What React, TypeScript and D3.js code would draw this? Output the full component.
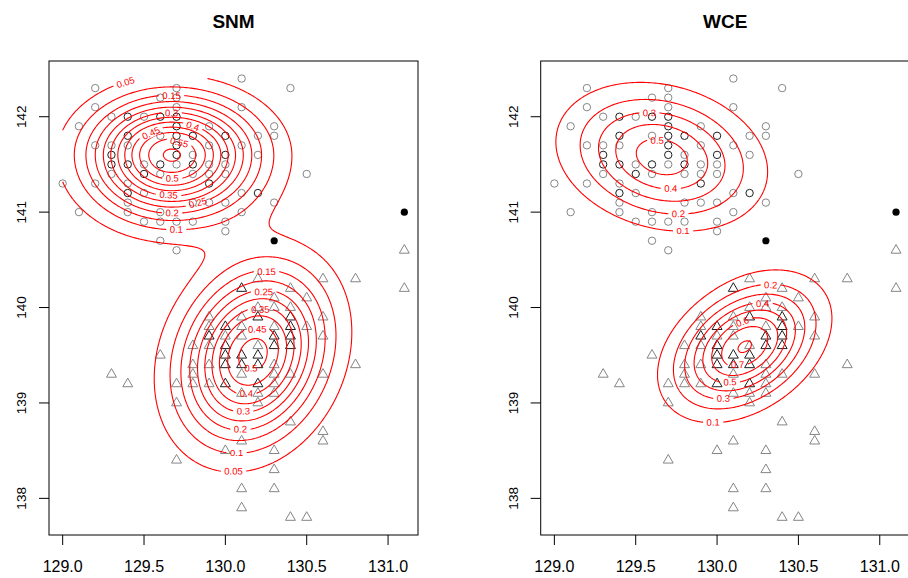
import React, { useMemo } from "react";
import * as d3 from "d3";

const W = 908;
const H = 578;
const FONT = "'Liberation Sans', Arial, Helvetica, sans-serif";

// ---------------- data ----------------
// circles (group 1), drawn gray
const circlesGray: [number, number][] = [
  [130.1, 142.4],
  [129.2, 142.3], [129.7, 142.3], [130.4, 142.3],
  [129.6, 142.2], [129.7, 142.2],
  [129.2, 142.1], [129.7, 142.1], [130.1, 142.1],
  [129.3, 142.0], [129.5, 142.0],
  [129.1, 141.9], [129.9, 141.9], [130.3, 141.9],
  [129.6, 141.8], [130.2, 141.8], [130.3, 141.8],
  [129.2, 141.7], [129.3, 141.7], [129.4, 141.7], [129.9, 141.7], [130.1, 141.7],
  [129.8, 141.6], [130.2, 141.6],
  [129.5, 141.5], [129.7, 141.5], [129.9, 141.5], [130.0, 141.5],
  [129.3, 141.4], [129.6, 141.4], [129.8, 141.4], [129.9, 141.4], [130.0, 141.4], [130.5, 141.4],
  [129.0, 141.3], [129.2, 141.3], [129.4, 141.3],
  [129.5, 141.2], [130.1, 141.2],
  [129.4, 141.1], [129.8, 141.1], [129.9, 141.1], [130.0, 141.1], [130.3, 141.1],
  [129.1, 141.0], [129.4, 141.0], [129.6, 141.0], [130.1, 141.0],
  [129.5, 140.9], [129.6, 140.9], [129.7, 140.9], [129.8, 140.9], [130.0, 140.9],
  [130.0, 140.8],
  [129.6, 140.7],
  [129.7, 140.6],
];
// circles that are overplotted (appear dark)
const circlesDark: [number, number][] = [
  [129.4, 142.0], [129.6, 142.0], [129.7, 142.0],
  [129.7, 141.9],
  [129.4, 141.8], [129.7, 141.8], [129.8, 141.8], [130.0, 141.8],
  [129.7, 141.7],
  [129.3, 141.6], [129.7, 141.6], [130.0, 141.6],
  [129.3, 141.5], [129.4, 141.5], [129.6, 141.5], [129.8, 141.5],
  [129.5, 141.4],
  [129.9, 141.3],
  [129.4, 141.2], [130.2, 141.2],
];
// triangles (group 2), drawn gray
const trianglesGray: [number, number][] = [
  [131.1, 140.6],
  [130.2, 140.3], [130.6, 140.3], [130.8, 140.3],
  [130.4, 140.2], [131.1, 140.2],
  [130.3, 140.1], [130.5, 140.1],
  [130.2, 140.0], [130.3, 140.0], [130.4, 140.0],
  [129.9, 139.9], [130.1, 139.9], [130.6, 139.9],
  [129.9, 139.8], [130.1, 139.8], [130.3, 139.8], [130.5, 139.8],
  [130.0, 139.7], [130.1, 139.7], [130.6, 139.7],
  [129.8, 139.6], [129.9, 139.6], [130.2, 139.6],
  [129.6, 139.5],
  [129.8, 139.4], [129.9, 139.4], [130.3, 139.4], [130.8, 139.4],
  [129.3, 139.3], [129.8, 139.3], [130.1, 139.3], [130.3, 139.3], [130.4, 139.3], [130.6, 139.3],
  [129.4, 139.2], [129.7, 139.2], [129.8, 139.2], [129.9, 139.2], [130.3, 139.2],
  [130.1, 139.1], [130.2, 139.1], [130.3, 139.1],
  [129.7, 139.0], [130.2, 139.0],
  [130.4, 138.8],
  [130.6, 138.7],
  [130.1, 138.6], [130.6, 138.6],
  [130.0, 138.5], [130.3, 138.5],
  [129.7, 138.4],
  [130.3, 138.3],
  [130.1, 138.1], [130.3, 138.1],
  [130.1, 137.9],
  [130.4, 137.8], [130.5, 137.8],
];
const trianglesDark: [number, number][] = [
  [130.1, 140.2],
  [130.2, 139.9], [130.4, 139.9],
  [130.0, 139.8], [130.4, 139.8],
  [129.9, 139.7], [130.3, 139.7], [130.4, 139.7],
  [130.0, 139.6], [130.3, 139.6], [130.4, 139.6],
  [130.0, 139.5], [130.1, 139.5], [130.2, 139.5],
  [130.0, 139.4], [130.1, 139.4], [130.2, 139.4],
  [130.0, 139.2], [130.2, 139.2],
];
const filledPts: [number, number][] = [
  [130.3, 140.7],
  [131.1, 141.0],
];

// axis ticks
const xTicks = [129.0, 129.5, 130.0, 130.5, 131.0];
const xTickLabels = ["129.0", "129.5", "130.0", "130.5", "131.0"];
const yTicks = [138, 139, 140, 141, 142];
const yTickLabels = ["138", "139", "140", "141", "142"];

// fitted mixture components (peak height, centre, spreads, correlation)
const snmPeak = [0.608, 0.525];
const snmLon = [129.67, 130.17];
const snmLat = [141.6, 139.5];
const snmSdLonLeft = [0.315, 0.28];
const snmSdLonRight = [0.33, 0.28];
const snmSdLatDown = [0.41, 0.565];
const snmSdLatUp = [0.375, 0.56];
const snmRho = [0, 0.2];
const snmLevels = [0.05, 0.1, 0.15, 0.2, 0.25, 0.3, 0.35, 0.4, 0.45, 0.5, 0.55, 0.6];

const wcePeak = [0.552, 0.81];
const wceLon = [129.66, 130.17];
const wceLat = [141.58, 139.59];
const wceSdLon = [0.352, 0.262];
const wceSdLat = [0.422, 0.39];
const wceRho = [-0.2, 0.37];
const wceLevels = [0.1, 0.2, 0.3, 0.4, 0.5, 0.6, 0.7, 0.8];

type Comp = { peak: number; mx: number; my: number; sxl: number; sxr: number; syd: number; syu: number; rho: number };

const snmComps: Comp[] = snmPeak.map((p, i) => ({
  peak: p, mx: snmLon[i], my: snmLat[i], sxl: snmSdLonLeft[i], sxr: snmSdLonRight[i],
  syd: snmSdLatDown[i], syu: snmSdLatUp[i], rho: snmRho[i],
}));
const wceComps: Comp[] = wcePeak.map((p, i) => ({
  peak: p, mx: wceLon[i], my: wceLat[i], sxl: wceSdLon[i], sxr: wceSdLon[i],
  syd: wceSdLat[i], syu: wceSdLat[i], rho: wceRho[i],
}));

function density(lon: number, lat: number, comps: Comp[]) {
  let v = 0;
  for (const c of comps) {
    const dx = lon - c.mx;
    const dy = lat - c.my;
    const zx = dx / (dx < 0 ? c.sxl : c.sxr);
    const zy = dy / (dy < 0 ? c.syd : c.syu);
    const m2 = (zx * zx - 2 * c.rho * zx * zy + zy * zy) / (1 - c.rho * c.rho);
    v += c.peak * Math.exp(-0.5 * m2);
  }
  return v;
}

// ---------------- layout ----------------
const allPts = [...circlesGray, ...circlesDark, ...trianglesGray, ...trianglesDark, ...filledPts];
const lonExt = d3.extent(allPts, (d) => d[0]) as [number, number];
const latExt = d3.extent(allPts, (d) => d[1]) as [number, number];
const padX = (lonExt[1] - lonExt[0]) * 0.04;
const padY = (latExt[1] - latExt[0]) * 0.04;

const PLOT_TOP = 61;
const PLOT_BOTTOM = 535;
const PLOT_W = 369;
const PANEL_LEFTS = [49, 540.7];

const LABEL_FS = 9.5;

function textWidth(s: string, fs: number) {
  let w = 0;
  for (const ch of s) w += ch === "." ? 0.278 : 0.556;
  return w * fs;
}

type Box = { x: number; y: number; a: number; hw: number; hh: number };
function corners(b: Box) {
  const c = Math.cos(b.a), s = Math.sin(b.a);
  return [[-b.hw, -b.hh], [b.hw, -b.hh], [b.hw, b.hh], [-b.hw, b.hh]].map(([u, v]) => [
    b.x + u * c - v * s,
    b.y + u * s + v * c,
  ]);
}
function overlaps(b1: Box, b2: Box) {
  const c1 = corners(b1), c2 = corners(b2);
  for (const b of [b1, b2]) {
    const axes = [[Math.cos(b.a), Math.sin(b.a)], [-Math.sin(b.a), Math.cos(b.a)]];
    for (const [ax, ay] of axes) {
      const p1 = c1.map((p) => p[0] * ax + p[1] * ay);
      const p2 = c2.map((p) => p[0] * ax + p[1] * ay);
      if (Math.max(...p1) < Math.min(...p2) || Math.max(...p2) < Math.min(...p1)) return false;
    }
  }
  return true;
}

function resample(pts: number[][], closed: boolean) {
  const out: number[][] = [];
  const P = closed ? [...pts, pts[0]] : pts;
  let carry = 0;
  out.push(P[0]);
  for (let i = 1; i < P.length; i++) {
    const a = P[i - 1], b = P[i];
    const len = Math.hypot(b[0] - a[0], b[1] - a[1]);
    let t = 1 - carry;
    while (t <= len) {
      const f = t / len;
      out.push([a[0] + (b[0] - a[0]) * f, a[1] + (b[1] - a[1]) * f]);
      t += 1;
    }
    carry = len - (t - 1);
  }
  if (closed && out.length > 1) {
    const l = out[out.length - 1];
    if (Math.hypot(l[0] - out[0][0], l[1] - out[0][1]) < 0.5) out.pop();
  }
  return out;
}

function fmtLevel(v: number) {
  return String(+v.toFixed(2));
}

function buildPanel(comps: Comp[], levels: number[], left: number) {
  const x = d3.scaleLinear().domain([lonExt[0] - padX, lonExt[1] + padX]).range([left, left + PLOT_W]);
  const y = d3.scaleLinear().domain([latExt[0] - padY, latExt[1] + padY]).range([PLOT_BOTTOM, PLOT_TOP]);
  const step = 0.01;
  const nx = Math.round((lonExt[1] - lonExt[0]) / step) + 1;
  const ny = Math.round((latExt[1] - latExt[0]) / step) + 1;
  const values = new Float64Array(nx * ny);
  for (let j = 0; j < ny; j++) {
    const lat = latExt[1] - j * step;
    for (let i = 0; i < nx; i++) values[j * nx + i] = density(lonExt[0] + i * step, lat, comps);
  }
  const gen = d3.contours().size([nx, ny]).thresholds(levels);
  const mps = gen(Array.from(values));
  const toPx = (p: number[]) => [x(lonExt[0] + (p[0] - 0.5) * step), y(latExt[1] - (p[1] - 0.5) * step)];
  const onB = (p: number[]) => p[0] <= 0 || p[0] >= nx || p[1] <= 0 || p[1] >= ny;

  type Line = { level: number; pts: number[][]; closed: boolean };
  const lines: Line[] = [];
  for (const mp of mps) {
    for (const poly of mp.coordinates) {
      for (const ring of poly) {
        const pts = ring.slice(0, -1);
        const bIdx = pts.findIndex(onB);
        if (bIdx < 0) {
          lines.push({ level: mp.value, pts: pts.map(toPx), closed: true });
          continue;
        }
        const rot = pts.slice(bIdx).concat(pts.slice(0, bIdx));
        let cur: number[][] = [];
        for (const p of rot) {
          if (onB(p)) {
            if (cur.length > 1) lines.push({ level: mp.value, pts: cur.map(toPx), closed: false });
            cur = [];
          } else cur.push(p);
        }
        if (cur.length > 1) lines.push({ level: mp.value, pts: cur.map(toPx), closed: false });
      }
    }
  }

  // label placement (flattest, near-horizontal, non-overlapping)
  const placed: (Box & { text: string; gap: number; dev: number })[] = [];
  const bx0 = left + 2, bx1 = left + PLOT_W - 2, by0 = PLOT_TOP + 2, by1 = PLOT_BOTTOM - 2;
  for (const ln of lines) {
    const text = fmtLevel(ln.level);
    const tw = textWidth(text, LABEL_FS);
    const gap = tw + 7;
    const xs = ln.pts.map((p) => p[0]), ys = ln.pts.map((p) => p[1]);
    const ext = Math.max(d3.max(xs)! - d3.min(xs)!, d3.max(ys)! - d3.min(ys)!);
    if (ext < gap * 1.1) continue;
    const res = resample(ln.pts, ln.closed);
    const n = res.length;
    const L = Math.round(gap);
    if (n < L + 2) continue;
    const count = ln.closed ? n : n - L;
    let best: any = null;
    for (let i = 0; i < count; i++) {
      const p0 = res[i], p1 = res[(i + L) % n];
      const dx = p1[0] - p0[0], dy = p1[1] - p0[1];
      const len = Math.hypot(dx, dy);
      if (len < gap * 0.8) continue;
      let dev = 0;
      for (let k = 1; k < L; k++) {
        const q = res[(i + k) % n];
        const d = Math.abs((q[0] - p0[0]) * dy - (q[1] - p0[1]) * dx) / len;
        if (d > dev) dev = d;
      }
      let a = Math.atan2(dy, dx);
      if (a > Math.PI / 2) a -= Math.PI;
      if (a <= -Math.PI / 2) a += Math.PI;
      const cx = (p0[0] + p1[0]) / 2, cy = (p0[1] + p1[1]) / 2;
      const score = dev + 5 * Math.abs(Math.sin(a)) - 0.0025 * cy;
      if (best && score >= best.score) continue;
      const b: Box = { x: cx, y: cy, a, hw: gap / 2 + 1, hh: 8 };
      const cs = corners(b);
      if (cs.some((c) => c[0] < bx0 || c[0] > bx1 || c[1] < by0 - 4 || c[1] > by1)) continue;
      if (placed.some((p) => overlaps(p, b))) continue;
      best = { ...b, score, dev, text, gap };
    }
    if (best) placed.push(best);
  }

  const lineGen = d3.line<number[]>().x((d) => d[0]).y((d) => d[1]);
  const paths = lines.map((l) => (l.closed ? lineGen([...l.pts, l.pts[0]]) : lineGen(l.pts)) as string);
  return { x, y, paths, labels: placed };
}

function triPath(cx: number, cy: number) {
  const R = 3.7;
  const r = 1.555 * R, yc = 0.778 * R, xc = 1.347 * R;
  return `M${cx},${cy - r}L${cx + xc},${cy + yc}L${cx - xc},${cy + yc}Z`;
}

function Panel({ left, title, comps, levels, id }: { left: number; title: string; comps: Comp[]; levels: number[]; id: string }) {
  const { x, y, paths, labels } = useMemo(() => buildPanel(comps, levels, left), [left, comps, levels]);
  const deg = (a: number) => (a * 180) / Math.PI;
  const GRAY = "#858585";
  const DARK = "#1e1e1e";
  return (
    <g>
      <defs>
        <mask id={id} maskUnits="userSpaceOnUse" x={0} y={0} width={W} height={H}>
          <rect x={0} y={0} width={W} height={H} fill="white" />
          {labels.map((l, i) => (
            <rect
              key={i}
              x={l.x - l.gap / 2}
              y={l.y - (l.dev + 2.5)}
              width={l.gap}
              height={2 * l.dev + 5}
              fill="black"
              transform={`rotate(${deg(l.a)},${l.x},${l.y})`}
            />
          ))}
        </mask>
      </defs>
      {/* title */}
      <text x={left + PLOT_W / 2} y={28.3} textAnchor="middle" fontFamily={FONT} fontWeight="bold" fontSize={19} fill="#000">
        {title}
      </text>
      {/* points */}
      {circlesGray.map((d, i) => (
        <circle key={"cg" + i} cx={x(d[0])} cy={y(d[1])} r={3.7} fill="none" stroke={GRAY} strokeWidth={1} />
      ))}
      {trianglesGray.map((d, i) => (
        <path key={"tg" + i} d={triPath(x(d[0]), y(d[1]))} fill="none" stroke={GRAY} strokeWidth={1} />
      ))}
      {circlesDark.map((d, i) => (
        <circle key={"cd" + i} cx={x(d[0])} cy={y(d[1])} r={3.7} fill="none" stroke={DARK} strokeWidth={1} />
      ))}
      {trianglesDark.map((d, i) => (
        <path key={"td" + i} d={triPath(x(d[0]), y(d[1]))} fill="none" stroke={DARK} strokeWidth={1} />
      ))}
      {filledPts.map((d, i) => (
        <circle key={"f" + i} cx={x(d[0])} cy={y(d[1])} r={3.6} fill="#000" />
      ))}
      {/* contours */}
      <g mask={`url(#${id})`}>
        {paths.map((p, i) => (
          <path key={i} d={p} fill="none" stroke="#ff0000" strokeWidth={1.1} />
        ))}
      </g>
      {labels.map((l, i) => (
        <text
          key={i}
          x={l.x}
          y={l.y}
          dy="0.36em"
          textAnchor="middle"
          fontFamily={FONT}
          fontSize={LABEL_FS}
          fill="#ff0000"
          transform={`rotate(${deg(l.a)},${l.x},${l.y})`}
        >
          {l.text}
        </text>
      ))}
      {/* box */}
      <rect x={left} y={PLOT_TOP} width={PLOT_W} height={PLOT_BOTTOM - PLOT_TOP} fill="none" stroke="#000" strokeWidth={1} />
      {/* x axis */}
      {xTicks.map((t, i) => (
        <g key={"xt" + i}>
          <line x1={x(t)} x2={x(t)} y1={PLOT_BOTTOM} y2={PLOT_BOTTOM + 10} stroke="#000" strokeWidth={1} />
          <text x={x(t)} y={571.7} textAnchor="middle" fontFamily={FONT} fontSize={16} fill="#000">
            {xTickLabels[i]}
          </text>
        </g>
      ))}
      {/* y axis */}
      {yTicks.map((t, i) => (
        <g key={"yt" + i}>
          <line x1={left - 10} x2={left} y1={y(t)} y2={y(t)} stroke="#000" strokeWidth={1} />
          <text
            x={left - 22.7}
            y={y(t)}
            textAnchor="middle"
            fontFamily={FONT}
            fontSize={13.5}
            fill="#000"
            transform={`rotate(-90,${left - 22.7},${y(t)})`}
          >
            {yTickLabels[i]}
          </text>
        </g>
      ))}
    </g>
  );
}

export default function App() {
  return (
    <svg
      width={W}
      height={H}
      viewBox={`0 0 ${W} ${H}`}
      style={{ position: "absolute", left: 0, top: 0, background: "#fff" }}
    >
      <rect x={0} y={0} width={W} height={H} fill="#fff" />
      <Panel left={PANEL_LEFTS[0]} title="SNM" comps={snmComps} levels={snmLevels} id="mask-snm" />
      <Panel left={PANEL_LEFTS[1]} title="WCE" comps={wceComps} levels={wceLevels} id="mask-wce" />
    </svg>
  );
}
